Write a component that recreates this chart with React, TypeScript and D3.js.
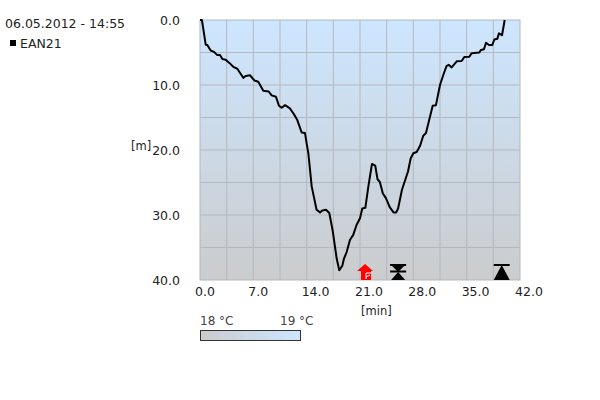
import React from "react";
import * as d3 from "d3";

const minutes = [0,0.25,0.75,0.96,1.4,1.84,2.27,2.63,2.93,3.37,3.85,4.37,4.9,5.35,5.7,6.0,6.56,7.13,7.65,8.31,9.02,9.4,9.97,10.36,10.72,11.16,11.8,12.33,12.77,13.34,13.78,14.1,14.22,14.66,15.3,15.75,16.05,16.54,16.97,17.4,17.94,18.28,18.68,18.9,19.25,19.69,20.1,20.56,21.0,21.3,21.7,22.1,22.57,23.0,23.3,23.6,24.0,24.4,24.9,25.4,25.75,26.0,26.5,27.3,27.65,28.0,28.44,28.9,29.3,29.66,30.54,30.97,31.5,31.93,32.35,32.64,33.03,33.69,34.35,34.69,35.35,35.66,36.66,36.88,37.27,37.54,37.93,38.36,38.63,39.02,39.24,39.64,39.99];
const depths = [0,0,3.8,3.85,4.7,4.9,5.4,5.4,6.0,6.1,6.6,7.2,7.5,8.3,8.9,8.6,8.5,9.3,9.5,10.9,11.0,11.6,11.8,13.2,13.5,13.1,13.6,14.5,15.4,17.3,17.4,19.7,20.5,25.6,29.2,29.6,29.3,29.2,29.7,32.3,36.7,38.5,37.8,36.7,35.7,33.8,33.1,31.5,30.5,29.0,28.9,25.6,22.15,22.4,24.5,24.9,26.7,27.4,28.8,29.6,29.6,29,26.15,23.3,21.3,20.5,20.3,19.3,17.8,17.4,13.2,13.1,10,8.46,7.1,6.9,7.3,6.35,6.3,5.7,5.65,5.1,5.0,4.6,4.5,3.5,3.85,3.85,3.0,2.9,2.05,2.35,0];
const xTicks = [0, 7, 14, 21, 28, 35, 42];
const xGrid = [3.5, 7, 10.5, 14, 17.5, 21, 24.5, 28, 31.5, 35, 38.5];
const yTicks = [0, 10, 20, 30, 40];
const yGrid = [5, 10, 15, 20, 25, 30, 35];
const ascentMin = 21.66;
const stopMin = 26;
const surfaceMin = 39.6;

const FONT = "'DejaVu Sans', sans-serif";
const TXT = "#222";

export default function App() {
  const x = d3.scaleLinear().domain([0, 42]).range([200, 520]);
  const y = d3.scaleLinear().domain([0, 40]).range([20, 280]);
  const line = d3.line<number>().x((d) => x(d)).y((_, i) => y(depths[i]));
  const ax = x(ascentMin), sx = x(stopMin), ex = x(surfaceMin);
  return (
    <svg width={600} height={400} style={{ position: "absolute", left: 0, top: 0 }} fontFamily={FONT} fontSize={12.5}>
      <defs>
        <linearGradient id="bg" x1="0" y1="0" x2="0" y2="1">
          <stop offset="0" stopColor="#cde6ff" />
          <stop offset="1" stopColor="#cbcccd" />
        </linearGradient>
        <linearGradient id="tb" x1="0" y1="0" x2="1" y2="0">
          <stop offset="0" stopColor="#cbcccd" />
          <stop offset="1" stopColor="#cde6ff" />
        </linearGradient>
      </defs>
      <rect x={200} y={20} width={320} height={260} fill="url(#bg)" />
      {xGrid.map((t) => (
        <line key={t} x1={x(t)} x2={x(t)} y1={20} y2={280} stroke="#b4b8bc" />
      ))}
      {yGrid.map((t) => (
        <line key={t} x1={200} x2={520} y1={y(t)} y2={y(t)} stroke="#b4b8bc" />
      ))}
      <rect x={200} y={20} width={320} height={260} fill="none" stroke="#b4b8bc" />
      <path d={line(minutes) ?? ""} fill="none" stroke="#000" strokeWidth={2} strokeLinejoin="round" />

      <path d={`M${ax} 264L${ax + 8} 271L${ax + 6} 271L${ax + 6} 280L${ax - 4} 280L${ax - 4} 271L${ax - 8} 271Z`} fill="#f00" />
      <path d={`M${ax + 1} 279L${ax + 1} 273L${ax + 6} 273M${ax + 1} 277L${ax + 5} 275`} fill="none" stroke="#fff" strokeWidth={1} />

      <rect x={sx - 8} y={264} width={16} height={2} fill="#000" />
      <path d={`M${sx - 7} 265L${sx + 7} 265L${sx} 272Z`} fill="#000" />
      <rect x={sx - 8} y={270.5} width={16} height={2} fill="#000" />
      <path d={`M${sx - 7} 280L${sx + 7} 280L${sx} 272Z`} fill="#000" />

      <rect x={ex - 8} y={264} width={16} height={2} fill="#000" />
      <path d={`M${ex - 8} 280L${ex + 8} 280L${ex} 265Z`} fill="#000" />

      {xTicks.map((t) => (
        <text key={t} x={x(t) - 5} y={296} fill={TXT}>{t.toFixed(1)}</text>
      ))}
      {yTicks.map((t) => (
        <text key={t} x={180} y={y(t) + 5} textAnchor="end" fill={TXT}>{t.toFixed(1)}</text>
      ))}
      <text x={131} y={150} fill={TXT} fontSize={11.5}>[m]</text>
      <text x={361} y={315} fill={TXT} fontSize={11.5}>[min]</text>
      <text x={5} y={28} fill={TXT}>06.05.2012 - 14:55</text>
      <rect x={10} y={40} width={6} height={6} fill="#000" />
      <text x={20} y={48} fill={TXT}>EAN21</text>
      <text x={200} y={325} fill="#444" fontSize={12}>18 °C</text>
      <text x={280} y={325} fill="#444" fontSize={12}>19 °C</text>
      <rect x={200.5} y={330.5} width={100} height={10} fill="url(#tb)" stroke="#333" />
    </svg>
  );
}
